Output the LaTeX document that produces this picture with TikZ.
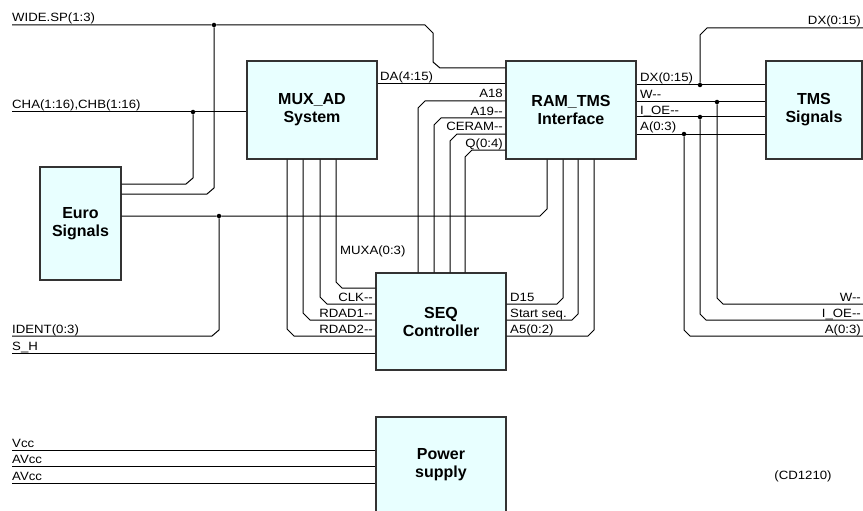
\documentclass[tikz,border=0pt]{standalone}
\usepackage{fontspec}
\setmainfont{Liberation Sans}[Ligatures=TeXOff]
\newfontfamily\sigfam{Liberation Sans}[Ligatures=TeXOff, FakeStretch=1.1]
\usepackage{tikz}
\usetikzlibrary{positioning}
\definecolor{boxfill}{HTML}{E8FFFF}
\newcommand{\sigfont}{\sigfam\fontsize{12}{12}\selectfont}
\newcommand{\boxfont}{\fontsize{16}{18}\selectfont\bfseries}
\tikzstyle{block} = [draw=black!80, fill=boxfill, line width=1.1pt, rectangle, align=center, font=\boxfont, inner sep=0pt]
\tikzstyle{wire} = [line width=1pt]
\tikzstyle{tag} = [font=\sigfont, inner sep=0pt]
\tikzstyle{dot} = [circle, fill, inner sep=0pt, minimum size=4.5pt]

\begin{document}
\begin{tikzpicture}[x=1pt, y=-1pt]
    \clip (0,0) rectangle (863,511);
    % blocks
    \node (mux) [block, minimum width=130pt, minimum height=98pt] at (312,110) {MUX\_AD\\System};
    \node (ram) [block, minimum width=130pt, minimum height=98pt] at (571,110) {RAM\_TMS\\Interface};
    \node (tms) [block, minimum width=96pt, minimum height=98pt] at (814,110) {TMS\\Signals};
    \node (euro) [block, minimum width=81pt, minimum height=113pt] at (80.5,223.5) {Euro\\Signals};
    \node (seq) [block, minimum width=130pt, minimum height=97pt] at (441,321.5) {SEQ\\Controller};
    \node (pwr) [block, minimum width=130pt, minimum height=96pt] at (441,465) {Power\\supply};
    % free ends
    \coordinate (wsp) at (12,25);
    \coordinate (cha) at (12,112);
    \coordinate (ident) at (12,336);
    \coordinate (sh) at (12,353);
    \coordinate (dxr) at (863,28);
    \coordinate (wr) at (863,304);
    \coordinate (oer) at (863,320);
    \coordinate (ar) at (863,336);
    \coordinate (vcc) at (12,450);
    \coordinate (avcc) at (12,466);
    \coordinate (avcc2) at (12,483);
    % junctions
    \node (d1) [dot] at (214,25) {};
    \node (d2) [dot] at (193,112) {};
    \node (d3) [dot] at (219,216) {};
    \node (d4) [dot] at (700,85) {};
    \node (d5) [dot] at (717,102) {};
    \node (d6) [dot] at (700,117) {};
    \node (d7) [dot] at (684,134) {};
    % left side
    \draw [wire] (wsp) -- (d1) -- (425,25) -- (433,33) -- (433,62) -- (440,68) -- (ram.west |- 0,68);
    \draw [wire] (d1) -- (214,188) -- (207,194) -- (euro.east |- 0,194);
    \draw [wire] (cha) -- (d2) -- (mux.west |- 0,112);
    \draw [wire] (d2) -- (193,178) -- (186,184) -- (euro.east |- 0,184);
    \draw [wire] (euro.east |- 0,216) -- (d3) -- (540,216) -- (547,209) -- (ram.south -| 547,0);
    \draw [wire] (d3) -- (219,330) -- (212,336) -- (ident);
    \draw [wire] (sh) -- (seq.west |- 0,353);
    \draw [wire] (mux.east |- 0,84) -- (ram.west |- 0,84);
    % RAM to SEQ
    \draw [wire] (ram.west |- 0,101) -- (425,101) -- (418,108) -- (seq.north -| 418,0);
    \draw [wire] (ram.west |- 0,118) -- (441,118) -- (434,125) -- (seq.north -| 434,0);
    \draw [wire] (ram.west |- 0,134) -- (457,134) -- (450,141) -- (seq.north -| 450,0);
    \draw [wire] (ram.west |- 0,150) -- (472,150) -- (465,157) -- (seq.north -| 465,0);
    \draw [wire] (seq.east |- 0,304) -- (557,304) -- (563,298) -- (ram.south -| 563,0);
    \draw [wire] (seq.east |- 0,320) -- (572,320) -- (578,314) -- (ram.south -| 578,0);
    \draw [wire] (seq.east |- 0,336) -- (588,336) -- (594,330) -- (ram.south -| 594,0);
    % MUX to SEQ
    \draw [wire] (mux.south -| 336,0) -- (336,282) -- (342,288) -- (seq.west |- 0,288);
    \draw [wire] (mux.south -| 320,0) -- (320,297) -- (327,304) -- (seq.west |- 0,304);
    \draw [wire] (mux.south -| 303,0) -- (303,313) -- (310,320) -- (seq.west |- 0,320);
    \draw [wire] (mux.south -| 287,0) -- (287,329) -- (294,336) -- (seq.west |- 0,336);
    % RAM to TMS
    \draw [wire] (ram.east |- 0,85) -- (d4) -- (tms.west |- 0,85);
    \draw [wire] (ram.east |- 0,102) -- (d5) -- (tms.west |- 0,102);
    \draw [wire] (ram.east |- 0,117) -- (d6) -- (tms.west |- 0,117);
    \draw [wire] (ram.east |- 0,134) -- (d7) -- (tms.west |- 0,134);
    \draw [wire] (d4) -- (700,35) -- (707,28) -- (dxr);
    \draw [wire] (d5) -- (717,298) -- (723,304) -- (wr);
    \draw [wire] (d6) -- (700,314) -- (706,320) -- (oer);
    \draw [wire] (d7) -- (684,330) -- (690,336) -- (ar);
    % power
    \draw [wire] (vcc) -- (pwr.west |- 0,450);
    \draw [wire] (avcc) -- (pwr.west |- 0,466);
    \draw [wire] (avcc2) -- (pwr.west |- 0,483);
    % labels
    \node (lwsp) [tag, anchor=base west] at (12,22) {WIDE.SP(1:3)};
    \node (lcha) [tag, anchor=base west] at (12,109) {CHA(1:16),CHB(1:16)};
    \node (lident) [tag, anchor=base west] at (12,333) {IDENT(0:3)};
    \node (lsh) [tag, anchor=base west] at (12,350) {S\_H};
    \node (lda) [tag, anchor=base west] at (380,81) {DA(4:15)};
    \node (la18) [tag, anchor=base east] at (503,98) {A18};
    \node (la19) [tag, anchor=base east] at (503,115) {A19--};
    \node (lceram) [tag, anchor=base east] at (503,131) {CERAM--};
    \node (lq) [tag, anchor=base east] at (503,147) {Q(0:4)};
    \node (ldx) [tag, anchor=base west] at (640,82) {DX(0:15)};
    \node (lw) [tag, anchor=base west] at (640,99) {W--};
    \node (loe) [tag, anchor=base west] at (640,114) {I\_OE--};
    \node (la) [tag, anchor=base west] at (640,131) {A(0:3)};
    \node (ldxr) [tag, anchor=base east] at (861,25) {DX(0:15)};
    \node (lmuxa) [tag, anchor=base west] at (340,254) {MUXA(0:3)};
    \node (lclk) [tag, anchor=base east] at (373,301) {CLK--};
    \node (lrdad1) [tag, anchor=base east] at (373,317) {RDAD1--};
    \node (lrdad2) [tag, anchor=base east] at (373,333) {RDAD2--};
    \node (ld15) [tag, anchor=base west] at (510,301) {D15};
    \node (lstart) [tag, anchor=base west] at (510,317) {Start seq.};
    \node (la5) [tag, anchor=base west] at (510,333) {A5(0:2)};
    \node (lwr) [tag, anchor=base east] at (861,301) {W--};
    \node (loer) [tag, anchor=base east] at (861,317) {I\_OE--};
    \node (lar) [tag, anchor=base east] at (861,333) {A(0:3)};
    \node (lvcc) [tag, anchor=base west] at (12,447) {Vcc};
    \node (lavcc) [tag, anchor=base west] at (12,463) {AVcc};
    \node (lavcc2) [tag, anchor=base west] at (12,480) {AVcc};
    \node (lcd) [tag] at (803,476) {(CD1210)};
\end{tikzpicture}
\end{document}
